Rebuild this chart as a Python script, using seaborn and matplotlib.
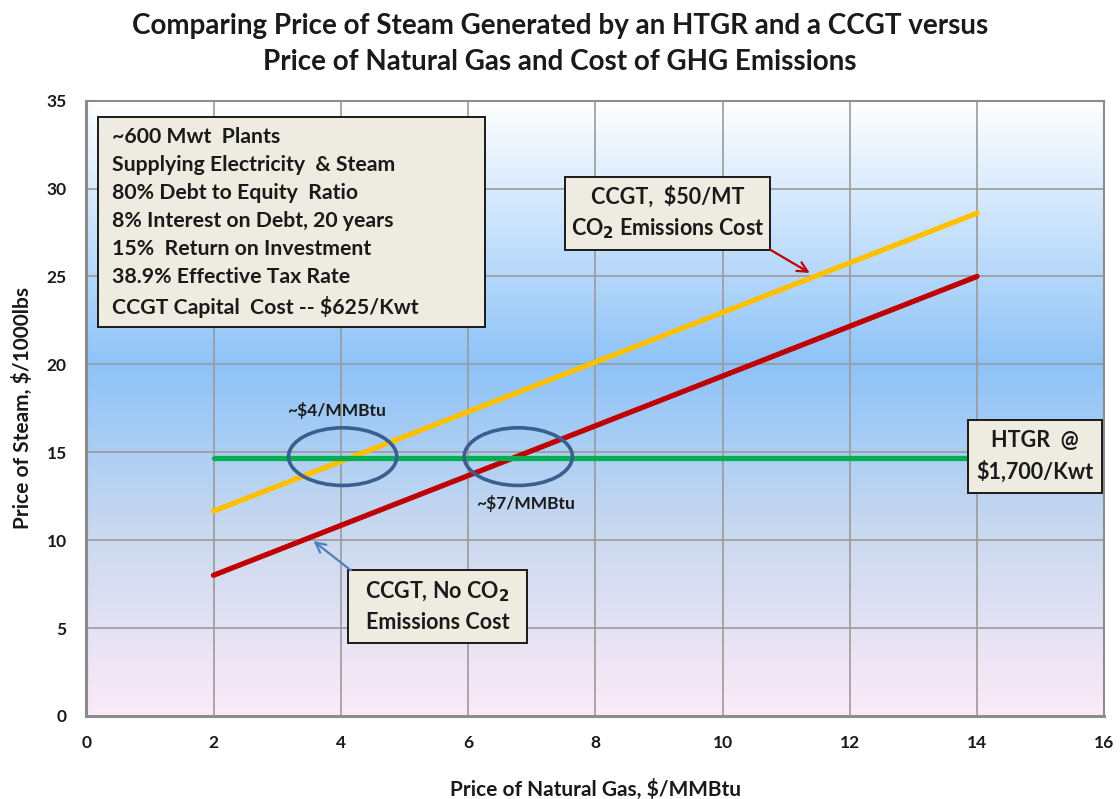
import numpy as np
import pandas as pd
import seaborn as sns
import matplotlib.pyplot as plt
from matplotlib.colors import LinearSegmentedColormap
from matplotlib.patches import Ellipse, Rectangle

# data
gas_price = [2, 14]
ccgt_co2_cost = [11.65, 28.6]
ccgt_no_co2 = [8.0, 25.0]
htgr_steam = [14.65, 14.65]
series_names = ["CCGT, $50/MT CO2", "CCGT, No CO2", "HTGR @ $1,700/Kwt"]
series_colors = ["#FFC000", "#C00000", "#00B050"]

x_ticks = list(range(0, 17, 2))
y_ticks = list(range(0, 36, 5))

assumptions = [
    "~600 Mwt  Plants",
    "Supplying Electricity  & Steam",
    "80% Debt to Equity  Ratio",
    "8% Interest on Debt, 20 years",
    "15%  Return on Investment",
    "38.9% Effective Tax Rate",
    "CCGT Capital  Cost -- $625/Kwt",
]

df = pd.DataFrame({
    "gas": gas_price * 3,
    "steam": ccgt_co2_cost + ccgt_no_co2 + htgr_steam,
    "series": [s for s in series_names for _ in gas_price],
})

sns.set_style("white")
plt.rcParams["font.family"] = ["Lato", "DejaVu Sans"]
plt.rcParams["font.weight"] = "bold"
txt = "#1A1A1A"
box_fc = "#EEECE1"

fig = plt.figure(figsize=(11.2, 7.99), dpi=100)
ax = fig.add_axes([0.077, 0.104, 0.909, 0.77])

# background gradient
cmap = LinearSegmentedColormap.from_list(
    "bg", [(0.0, "#FCEAF8"), (0.29, "#CBD9EF"), (0.57, "#8EC3F8"), (1.0, "#FFFFFF")])
grad = np.linspace(0, 1, 256).reshape(-1, 1)
ax.imshow(grad, extent=[0, 16, 0, 35], origin="lower", aspect="auto", cmap=cmap, zorder=0)

sns.lineplot(data=df, x="gas", y="steam", hue="series", palette=series_colors,
             linewidth=3.8, legend=False, ax=ax, zorder=3, solid_capstyle="round")

ax.set_xlim(0, 16)
ax.set_ylim(0, 35)
ax.set_xticks(x_ticks)
ax.set_yticks(y_ticks)
ax.grid(True, color="#9A9A9A", linewidth=1.2)
ax.set_axisbelow(True)
for sp in ax.spines.values():
    sp.set_color("#8C8C8C")
    sp.set_linewidth(1.5)
ax.spines["left"].set_linewidth(2.2)
ax.spines["bottom"].set_linewidth(2.2)
ax.tick_params(axis="both", length=0, labelsize=12.5, labelcolor=txt)
ax.tick_params(axis="x", pad=14)
ax.tick_params(axis="y", pad=14)

ax.set_xlabel("Price of Natural Gas, $/MMBtu", fontsize=15, fontweight="bold", color=txt, labelpad=20)
ax.set_ylabel("Price of Steam, $/1000lbs", fontsize=15, fontweight="bold", color=txt, labelpad=10)

fig.text(0.5, 0.984, "Comparing Price of Steam Generated by an HTGR and a CCGT versus\n"
         "Price of Natural Gas and Cost of GHG Emissions",
         ha="center", va="top", fontsize=20, fontweight="bold", color=txt, linespacing=1.5)


def text_box(x0, x1, y0, y1, text, **kw):
    ax.add_patch(Rectangle((x0, y0), x1 - x0, y1 - y0, facecolor=box_fc,
                           edgecolor="#1A1A1A", linewidth=1.4, zorder=5))
    ax.text((x0 + x1) / 2, (y0 + y1) / 2, text, ha="center", va="center", fontsize=15.5,
            color=txt, linespacing=1.5, zorder=6, **kw)


# assumptions box
ax.add_patch(Rectangle((0.19, 22.14), 6.08, 11.95, facecolor=box_fc,
                       edgecolor="#1A1A1A", linewidth=1.4, zorder=5))
ax.text(0.41, 33.5, "\n".join(assumptions), ha="left", va="top", fontsize=15.3,
        color=txt, linespacing=1.5, zorder=6)

text_box(7.53, 10.75, 26.52, 30.68, "CCGT,  $50/MT\nCO$_2$ Emissions Cost")
text_box(4.12, 6.92, 4.15, 8.31, "CCGT, No CO$_2$\nEmissions Cost")
text_box(13.85, 15.96, 12.69, 16.85, "HTGR  @\n$1,700/Kwt")

ax.annotate("", xy=(11.37, 25.2), xytext=(10.75, 26.52), zorder=6,
            arrowprops=dict(arrowstyle="->", color="#C00000", lw=1.6, mutation_scale=18,
                            shrinkA=0, shrinkB=0))
ax.annotate("", xy=(3.57, 9.95), xytext=(4.16, 8.28), zorder=6,
            arrowprops=dict(arrowstyle="->", color="#4F81BD", lw=1.6, mutation_scale=18,
                            shrinkA=0, shrinkB=0))

for cx in (4.03, 6.79):
    ax.add_patch(Ellipse((cx, 14.75), 1.7, 3.28, fill=False, edgecolor="#3A5F8E", linewidth=2.6, zorder=4))

ax.text(3.94, 17.4, "~$4/MMBtu", ha="center", va="center", fontsize=12.5, color=txt, zorder=5)
ax.text(6.9, 12.1, "~$7/MMBtu", ha="center", va="center", fontsize=12.5, color=txt, zorder=5)

fig.savefig("out.png", dpi=100)
